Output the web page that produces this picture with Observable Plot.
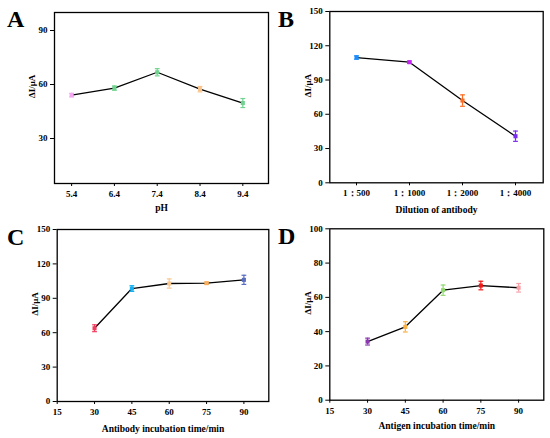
<!DOCTYPE html>
<html>
<head>
<meta charset="utf-8">
<script src="https://cdn.jsdelivr.net/npm/d3@7"></script>
<script src="https://cdn.jsdelivr.net/npm/@observablehq/plot@0.6"></script>
<style>
  html, body { margin: 0; padding: 0; background: #fff; }
  #wrap { position: relative; width: 550px; height: 438px; overflow: hidden; font-family: "Liberation Serif", "Times New Roman", serif; }
  .panel { position: absolute; width: 275px; height: 219px; }
  .letter { position: absolute; font-size: 24px; line-height: 24px; font-weight: bold; font-family: "Liberation Serif", serif; }
</style>
</head>
<body>
<div id="wrap"></div>
<script>
// ---- Data ----
// A: pH
const phX = [5.4, 6.4, 7.4, 8.4, 9.4];
const phY = [54.1, 58.0, 66.8, 57.4, 49.7];
const phErr = [1.0, 1.2, 2.0, 1.5, 2.5];
const phColors = ["#f4a6f0", "#6fd38f", "#6fd38f", "#f8c38a", "#6fd38f"];
const phYTicks = [30, 60, 90];

// B: dilution of antibody
const dilLabels = ["1：500", "1：1000", "1：2000", "1：4000"];
const dilY = [109.7, 105.6, 72.0, 40.8];
const dilErr = [1.5, 1.0, 5.0, 4.5];
const dilColors = ["#1a8cff", "#c424f0", "#ff6a20", "#7a2cf0"];
const dilYTicks = [0, 30, 60, 90, 120, 150];

// C: antibody incubation time
const abTime = [30, 45, 60, 75, 90];
const abY = [63.9, 98.5, 102.9, 103.2, 106.1];
const abErr = [3.0, 2.5, 4.0, 1.0, 4.0];
const abColors = ["#f03c5c", "#12b0f0", "#f8c890", "#f8b060", "#5a6cc0"];
const abYTicks = [0, 30, 60, 90, 120, 150];

// D: antigen incubation time
const agTime = [30, 45, 60, 75, 90];
const agY = [34.2, 42.8, 64.2, 66.9, 65.6];
const agErr = [2.0, 3.0, 3.0, 2.5, 2.5];
const agColors = ["#8a38b0", "#f8b040", "#90d870", "#f01818", "#f8a0a8"];
const agYTicks = [0, 20, 40, 60, 80, 100];

const timeXTicks = [15, 30, 45, 60, 75, 90];
const yLabel = "ΔI/μA";

// horizontal cap symbol for error bars
const capSymbol = {
  draw(ctx, size) {
    const r = Math.sqrt(size / Math.PI);
    ctx.moveTo(-r, 0);
    ctx.lineTo(r, 0);
  }
};

function makePanel(cfg) {
  const data = cfg.x.map((x, i) => ({
    x, y: cfg.y[i], lo: cfg.y[i] - cfg.err[i], hi: cfg.y[i] + cfg.err[i], color: cfg.colors[i]
  }));
  const xScale = cfg.xType === "point"
    ? { type: "point", domain: cfg.x, padding: 0.5 }
    : { type: "linear", domain: cfg.xDomain };
  return Plot.plot({
    width: 275,
    height: 219,
    marginLeft: cfg.m[0],
    marginRight: cfg.m[1],
    marginTop: cfg.m[2],
    marginBottom: cfg.m[3],
    style: { fontFamily: "Liberation Serif, serif", fontWeight: "bold", fontSize: "9px", color: "black", background: "white", overflow: "visible" },
    x: { ...xScale, label: null },
    y: { domain: cfg.yDomain, label: null },
    color: { type: "identity" },
    marks: [
      Plot.axisX({ ticks: cfg.xTicks, tickSize: 3, tickPadding: 4, label: null, fontSize: 9, fontWeight: "bold", stroke: "black", strokeWidth: 1 }),
      Plot.axisY({ ticks: cfg.yTicks, tickSize: 4, tickPadding: 3, label: null, fontSize: 9, fontWeight: "bold", tickFormat: d => String(d) }),
      Plot.line(data, { x: "x", y: "y", stroke: "black", strokeWidth: 1.3 }),
      Plot.ruleX(data, { x: "x", y1: "lo", y2: "hi", stroke: "color", strokeWidth: 1.2 }),
      Plot.dot(data, { x: "x", y: "hi", symbol: capSymbol, r: 2.4, stroke: "color", strokeWidth: 1.2 }),
      Plot.dot(data, { x: "x", y: "lo", symbol: capSymbol, r: 2.4, stroke: "color", strokeWidth: 1.2 }),
      Plot.dot(data, { x: "x", y: "y", symbol: "square", r: 2.3, fill: "color", stroke: "none" }),
      Plot.frame({ stroke: "black", strokeWidth: 1.3 }),
      Plot.text([yLabel], { frameAnchor: "left", rotate: -90, dx: -22, fontSize: 9, fontWeight: "bold", fill: "black" }),
      Plot.text([cfg.xLabel], { frameAnchor: "bottom", dy: cfg.xLabelDy, lineAnchor: "middle", fontSize: 9.5, fontWeight: "bold", fill: "black" })
    ]
  });
}

const panels = [
  { letter: "A", left: 0, top: 0, lx: 7, ly: 7,
    x: phX, y: phY, err: phErr, colors: phColors, xType: "linear", xDomain: [5, 10],
    xTicks: phX, yDomain: [5, 100], yTicks: phYTicks, xLabel: "pH", xLabelDy: 24, m: [54, 7, 12, 36] },
  { letter: "B", left: 275, top: 0, lx: 3, ly: 7,
    x: dilLabels, y: dilY, err: dilErr, colors: dilColors, xType: "point",
    xTicks: dilLabels, yDomain: [0, 150], yTicks: dilYTicks, xLabel: "Dilution of antibody", xLabelDy: 27, m: [54.3, 7.3, 11, 36.7] },
  { letter: "C", left: 0, top: 219, lx: 7, ly: 6,
    x: abTime, y: abY, err: abErr, colors: abColors, xType: "linear", xDomain: [15, 100],
    xTicks: timeXTicks, yDomain: [0, 150], yTicks: abYTicks, xLabel: "Antibody incubation time/min", xLabelDy: 27, m: [56.7, 6.7, 10, 37] },
  { letter: "D", left: 275, top: 219, lx: 3, ly: 5,
    x: agTime, y: agY, err: agErr, colors: agColors, xType: "linear", xDomain: [15, 100],
    xTicks: timeXTicks, yDomain: [0, 100], yTicks: agYTicks, xLabel: "Antigen incubation time/min", xLabelDy: 26, m: [54.3, 6.7, 9.3, 38.3] }
];

const wrap = document.getElementById("wrap");
for (const p of panels) {
  const div = document.createElement("div");
  div.className = "panel";
  div.style.left = p.left + "px";
  div.style.top = p.top + "px";
  div.appendChild(makePanel(p));
  const lt = document.createElement("div");
  lt.className = "letter";
  lt.textContent = p.letter;
  lt.style.left = p.lx + "px";
  lt.style.top = p.ly + "px";
  div.appendChild(lt);
  wrap.appendChild(div);
}
</script>
</body>
</html>
